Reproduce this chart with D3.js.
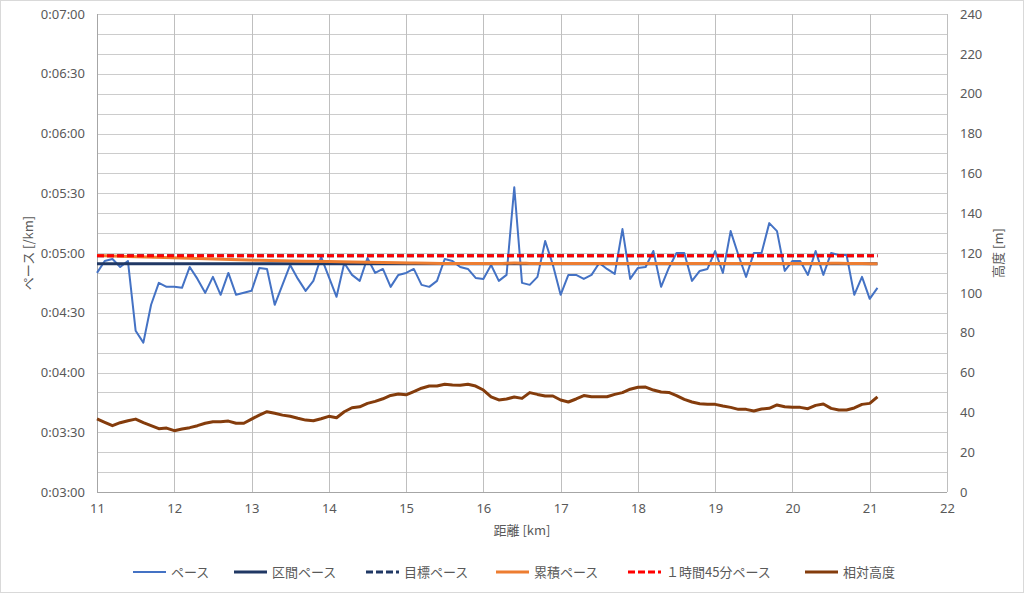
<!DOCTYPE html>
<html>
<head>
<meta charset="utf-8">
<script src="https://cdn.jsdelivr.net/npm/d3@7"></script>
<style>
  body { margin: 0; background: #fff; }
  svg text { font-family: "Noto Sans CJK JP", "Noto Sans", sans-serif; fill: #595959; }
</style>
</head>
<body>
<div id="chart"></div>
<script>
// distance of each pace / elevation sample [km]
const dist = d3.range(0, 102).map(i => +(11 + i * 0.1).toFixed(1));

// pace per sample [sec/km]
const pace = [
  290, 296, 297, 293, 296, 261, 255, 274, 285, 283,
  283, 282.5, 293, 287, 280, 288, 279, 290, 279, 280,
  281, 292.5, 292, 274, 284, 294, 287, 281, 286, 298,
  288, 278, 295, 289, 286, 297.5, 290, 292, 283, 289,
  290, 292, 284, 283, 286, 297, 296, 293, 292, 287.5,
  287, 294, 286, 289, 333, 285, 284, 288, 306, 294,
  279, 289, 289, 287, 289, 295, 292, 289.5, 312, 287,
  292.5, 293, 301, 283, 292.5, 300, 300, 286, 291, 292,
  301, 290, 311, 299, 288, 300, 300, 315, 311, 291,
  296, 296, 289, 301, 289, 300, 299, 299, 279, 288,
  277, 282.5
];

// relative elevation per sample [m]
const elev = [
  36.7, 35.0, 33.3, 34.8, 35.8, 36.6, 34.8, 33.3, 31.8, 32.1,
  30.8, 31.6, 32.3, 33.3, 34.5, 35.3, 35.3, 35.6, 34.5, 34.5,
  36.6, 38.6, 40.3, 39.5, 38.6, 38.0, 37.0, 36.1, 35.8, 36.8,
  38.0, 37.3, 40.3, 42.3, 42.8, 44.5, 45.5, 46.8, 48.5, 49.2,
  48.8, 50.4, 52.1, 53.2, 53.2, 54.1, 53.7, 53.6, 54.1, 53.2,
  51.2, 47.8, 46.2, 46.7, 47.7, 47.0, 49.9, 49.0, 48.2, 48.2,
  46.2, 45.2, 46.7, 48.4, 47.8, 47.8, 47.8, 49.0, 49.9, 51.6,
  52.6, 52.7, 51.2, 50.2, 50.0, 48.4, 46.5, 45.2, 44.3, 44.0,
  44.0, 43.2, 42.5, 41.5, 41.5, 40.7, 41.7, 42.0, 43.7, 42.8,
  42.5, 42.5, 41.8, 43.5, 44.2, 42.0, 41.2, 41.2, 42.2, 44.0,
  44.5, 47.8
];

// cumulative pace [sec/km]
const cumDist = [11, 11.4, 12.3, 13.1, 14.0, 14.9, 15.7, 16.2, 16.4, 16.7, 20.4, 20.6, 20.9, 21.1];
const cumPace = [298.8, 298.3, 297.3, 296.3, 295.7, 295.1, 294.7, 294.7, 295.0, 294.7, 294.7, 294.9, 294.7, 294.6];

const intervalPace = 294.6;   // 区間ペース
const targetPace = 298.6;     // 目標ペース
const sub145Pace = 6300 / 21.0975; // 1時間45分ペース

const xTicks = d3.range(11, 23);
const paceTicks = d3.range(180, 421, 30);
const elevTicks = d3.range(0, 241, 20);

const legendItems = [
  { label: 'ペース', color: '#4472C4', width: 2, dash: null },
  { label: '区間ペース', color: '#203864', width: 3, dash: null },
  { label: '目標ペース', color: '#203864', width: 3, dash: '7,3' },
  { label: '累積ペース', color: '#ED7D31', width: 3, dash: null },
  { label: '１時間45分ペース', color: '#FF0000', width: 3, dash: '7,3' },
  { label: '相対高度', color: '#843C0C', width: 3, dash: null }
];

const W = 1024, H = 593;
const margin = { top: 14, right: 77, bottom: 101, left: 97 };
const width = W - margin.left - margin.right;
const height = H - margin.top - margin.bottom;

const svg = d3.select('#chart')
  .append('svg')
  .attr('width', W)
  .attr('height', H);

svg.append('rect')
  .attr('x', 0.5).attr('y', 0.5)
  .attr('width', W - 1).attr('height', H - 1)
  .attr('fill', '#fff')
  .attr('stroke', '#d9d9d9');

const g = svg.append('g')
  .attr('transform', `translate(${margin.left},${margin.top})`);

const x = d3.scaleLinear().domain([11, 22]).range([0, width]);
const y = d3.scaleLinear().domain([180, 420]).range([height, 0]);
const y2 = d3.scaleLinear().domain([0, 240]).range([height, 0]);

// grid
g.append('g')
  .selectAll('line')
  .data(d3.range(180, 421, 10))
  .enter()
  .append('line')
  .attr('x1', 0).attr('x2', width)
  .attr('y1', d => Math.round(y(d)) + 0.5)
  .attr('y2', d => Math.round(y(d)) + 0.5)
  .attr('stroke', '#cccccc')
  .attr('stroke-width', 1);

g.append('g')
  .selectAll('line')
  .data(xTicks)
  .enter()
  .append('line')
  .attr('x1', d => Math.round(x(d)) + 0.5)
  .attr('x2', d => Math.round(x(d)) + 0.5)
  .attr('y1', 0).attr('y2', height)
  .attr('stroke', d => d === 11 ? '#a6a6a6' : '#bfbfbf')
  .attr('stroke-width', 1);

g.append('line')
  .attr('x1', 0).attr('x2', width)
  .attr('y1', height + 0.5).attr('y2', height + 0.5)
  .attr('stroke', '#a6a6a6');

// axes
const fmt = s => {
  const m = Math.floor(s / 60), sec = Math.round(s % 60);
  return `0:${String(m).padStart(2, '0')}:${String(sec).padStart(2, '0')}`;
};

const axisL = g.append('g')
  .call(d3.axisLeft(y).tickValues(paceTicks).tickFormat(fmt).tickSize(0).tickPadding(12));
const axisR = g.append('g')
  .attr('transform', `translate(${width},0)`)
  .call(d3.axisRight(y2).tickValues(elevTicks).tickSize(0).tickPadding(13));
const axisB = g.append('g')
  .attr('transform', `translate(0,${height})`)
  .call(d3.axisBottom(x).tickValues(xTicks).tickSize(0).tickPadding(12));

[axisL, axisR, axisB].forEach(a => {
  a.select('.domain').remove();
  a.selectAll('text')
    .style('font-size', '13px')
    .style('font-family', '"Noto Sans", sans-serif')
    .attr('fill', '#595959');
});

// axis titles
svg.append('text')
  .attr('transform', `translate(33,${margin.top + y(300)}) rotate(-90)`)
  .attr('text-anchor', 'middle')
  .style('font-size', '13px')
  .text('ペース [/km]');

svg.append('text')
  .attr('transform', `translate(1003,${margin.top + y(300)}) rotate(-90)`)
  .attr('text-anchor', 'middle')
  .style('font-size', '13px')
  .text('高度 [m]');

svg.append('text')
  .attr('x', margin.left + width / 2)
  .attr('y', 535)
  .attr('text-anchor', 'middle')
  .style('font-size', '13px')
  .text('距離 [km]');

// series
const paceLine = d3.line().x((d, i) => x(dist[i])).y(d => y(d));
const elevLine = d3.line().x((d, i) => x(dist[i])).y(d => y2(d));
const cumLine = d3.line().x((d, i) => x(cumDist[i])).y(d => y(d));
const flat = v => d3.line().x(d => x(d)).y(() => y(v));
const span = [dist[0], dist[dist.length - 1]];

g.append('path')
  .datum(pace)
  .attr('d', paceLine)
  .attr('fill', 'none')
  .attr('stroke', '#4472C4')
  .attr('stroke-width', 2)
  .attr('stroke-linejoin', 'round');

g.append('path')
  .datum(span)
  .attr('d', flat(intervalPace))
  .attr('fill', 'none')
  .attr('stroke', '#203864')
  .attr('stroke-width', 3);

g.append('path')
  .datum(span)
  .attr('d', flat(targetPace))
  .attr('fill', 'none')
  .attr('stroke', '#203864')
  .attr('stroke-width', 3)
  .attr('stroke-dasharray', '7,3');

g.append('path')
  .datum(cumPace)
  .attr('d', cumLine.curve(d3.curveMonotoneX))
  .attr('fill', 'none')
  .attr('stroke', '#ED7D31')
  .attr('stroke-width', 3);

g.append('path')
  .datum(span)
  .attr('d', flat(sub145Pace))
  .attr('fill', 'none')
  .attr('stroke', '#FF0000')
  .attr('stroke-width', 3)
  .attr('stroke-dasharray', '7,3');

g.append('path')
  .datum(elev)
  .attr('d', elevLine)
  .attr('fill', 'none')
  .attr('stroke', '#843C0C')
  .attr('stroke-width', 3)
  .attr('stroke-linejoin', 'round');

// legend
const legendX = [133, 234, 366, 496, 628, 805];
const legend = svg.append('g').attr('transform', 'translate(0,572)');
legendItems.forEach((item, i) => {
  const lg = legend.append('g').attr('transform', `translate(${legendX[i]},0)`);
  lg.append('line')
    .attr('x1', 0).attr('x2', 33)
    .attr('y1', 0).attr('y2', 0)
    .attr('stroke', item.color)
    .attr('stroke-width', item.width)
    .attr('stroke-dasharray', item.dash);
  lg.append('text')
    .attr('x', 38)
    .attr('y', 0)
    .attr('dy', '0.35em')
    .style('font-size', '13px')
    .text(item.label);
});
</script>
</body>
</html>
